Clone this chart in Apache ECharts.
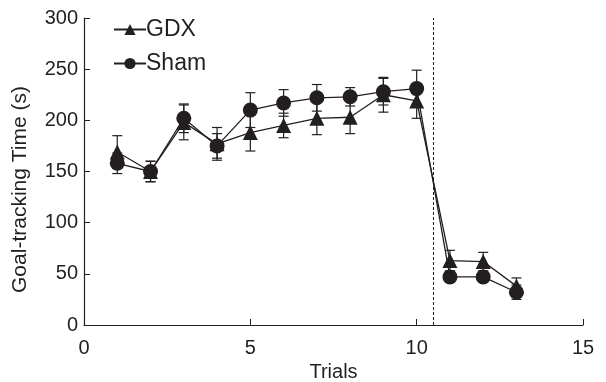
<!DOCTYPE html>
<html>
<head>
<meta charset="utf-8">
<script src="https://cdn.jsdelivr.net/npm/echarts@6/dist/echarts.min.js"></script>
<style>
  html, body { margin: 0; padding: 0; background: #fff; }
  #chart { width: 606px; height: 382px; }
</style>
</head>
<body>
<div id="chart"></div>
<script>
// Goal-tracking time per trial for castrated (GDX) and sham-operated groups
const trials = [1, 2, 3, 4, 5, 6, 7, 8, 9, 10, 11, 12, 13];
const gdxMean = [169, 150, 198, 177, 188, 195, 202, 203, 225, 219, 63, 62, 38];
const gdxErr  = [16, 10, 17, 16, 18, 12, 16, 16, 17, 17, 10, 9, 8];
const shamMean = [158, 150, 202, 175, 210, 217, 222, 223, 228, 231, 47, 47, 32];
const shamErr  = [10, 10, 14, 12, 17, 13, 13, 9, 13, 18, 5, 4, 7];
const switchTrial = 10.5;   // boundary between the two phases
const xTicks = [0, 5, 10, 15];
const yTicks = [0, 50, 100, 150, 200, 250, 300];

const ink = '#231f20';
const font = 'Liberation Sans, Arial, Helvetica, sans-serif';

function pairs(xs, ys) { return xs.map((x, i) => [x, ys[i]]); }
function errRows(xs, m, e) { return xs.map((x, i) => [x, m[i] - e[i], m[i] + e[i]]); }

// vertical whisker with caps at both ends
function errorBar(params, api) {
  const x = api.value(0);
  const lo = api.coord([x, api.value(1)]);
  const hi = api.coord([x, api.value(2)]);
  const w = 5;
  const style = { stroke: ink, lineWidth: 1.2 };
  return {
    type: 'group',
    children: [
      { type: 'line', shape: { x1: lo[0], y1: lo[1], x2: hi[0], y2: hi[1] }, style },
      { type: 'line', shape: { x1: lo[0] - w, y1: lo[1], x2: lo[0] + w, y2: lo[1] }, style },
      { type: 'line', shape: { x1: hi[0] - w, y1: hi[1], x2: hi[0] + w, y2: hi[1] }, style }
    ]
  };
}

const chart = echarts.init(document.getElementById('chart'), null, { renderer: 'canvas' });
chart.setOption({
  animation: false,
  backgroundColor: '#fff',
  grid: { left: 84, right: 23, top: 18, bottom: 57, containLabel: false, outerBoundsMode: 'none' },
  legend: {
    orient: 'vertical',
    left: 108,
    top: 13,
    itemGap: 11,
    itemWidth: 32,
    itemHeight: 14,
    data: ['GDX', 'Sham'],
    textStyle: { color: ink, fontSize: 23, fontFamily: font, padding: [0, 0, 0, -5] }
  },
  xAxis: {
    type: 'value',
    min: xTicks[0],
    max: xTicks[xTicks.length - 1],
    interval: 5,
    name: 'Trials',
    nameLocation: 'middle',
    nameGap: 31,
    nameTextStyle: { color: ink, fontSize: 20, fontFamily: font },
    axisLine: { lineStyle: { color: ink, width: 1.2 } },
    axisTick: { inside: true, length: 6, lineStyle: { color: ink } },
    axisLabel: { color: ink, fontSize: 20, fontFamily: font, margin: 13 },
    splitLine: { show: false }
  },
  yAxis: {
    type: 'value',
    min: yTicks[0],
    max: yTicks[yTicks.length - 1],
    interval: 50,
    name: 'Goal-tracking Time (s)',
    nameLocation: 'middle',
    nameGap: 53,
    nameTextStyle: { color: ink, fontSize: 21, fontFamily: font, padding: [0, 36, 0, 0] },
    axisLine: { show: true, lineStyle: { color: ink, width: 1.2 } },
    axisTick: { show: true, inside: true, length: 6, lineStyle: { color: ink } },
    axisLabel: { color: ink, fontSize: 20, fontFamily: font, margin: 6 },
    splitLine: { show: false }
  },
  series: [
    {
      name: 'GDX-err',
      type: 'custom',
      renderItem: errorBar,
      data: errRows(trials, gdxMean, gdxErr),
      z: 1,
      silent: true
    },
    {
      name: 'Sham-err',
      type: 'custom',
      renderItem: errorBar,
      data: errRows(trials, shamMean, shamErr),
      z: 1,
      silent: true
    },
    {
      name: 'GDX',
      type: 'line',
      data: pairs(trials, gdxMean),
      symbol: 'triangle',
      symbolSize: 15,
      itemStyle: { color: ink },
      lineStyle: { color: ink, width: 1.3 },
      z: 3,
      markLine: {
        silent: true,
        symbol: ['none', 'none'],
        label: { show: false },
        lineStyle: { color: ink, type: [3, 2], width: 1 },
        data: [{ xAxis: switchTrial }]
      }
    },
    {
      name: 'Sham',
      type: 'line',
      data: pairs(trials, shamMean),
      symbol: 'circle',
      symbolSize: 15,
      itemStyle: { color: ink },
      lineStyle: { color: ink, width: 1.3 },
      z: 3
    }
  ]
});
</script>
</body>
</html>
